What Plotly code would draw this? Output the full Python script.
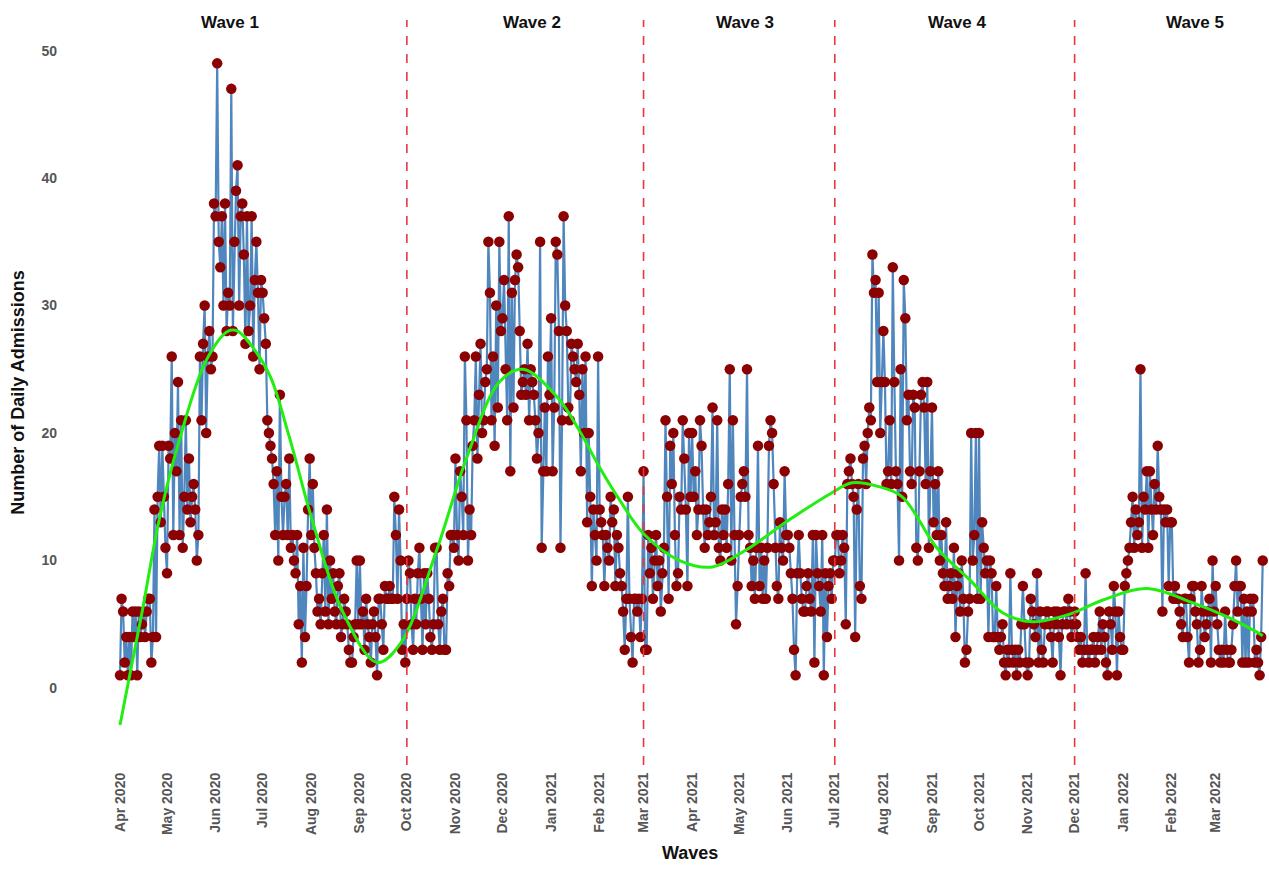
import pandas as pd
import plotly.graph_objects as go

# ---------------- data ----------------
apr20 = [1,7,6,2,4,1,4,1,6,4,6,1,6,4,5,6,4,6,7,7,2,4,14,4,15,19,13,19,15,11]
may20 = [9,19,18,26,12,20,17,24,12,21,11,15,21,14,18,13,15,16,14,10,12,26,21,27,30,20,26,28,25,26,38]
jun20 = [37,49,35,33,37,30,38,28,31,30,47,28,35,39,41,30,37,38,34,27,37,28,30,37,26,32,35,31,25,32]
jul20 = [31,29,27,21,20,19,18,16,12,17,10,23,15,12,15,16,12,18,11,12,10,9,12,5,8,2,11,4,8,14,18]
aug20 = [12,16,11,9,6,7,5,9,12,6,14,5,10,7,9,6,5,8,9,4,5,7,6,5,3,2,2,4,5,10,5]
sep20 = [10,5,6,3,7,5,4,2,5,6,4,1,7,7,5,3,8,7,7,8,7,7,15,12,7,14,10,3,5,2]
oct20 = [7,10,9,5,3,7,5,9,11,7,3,9,5,9,7,4,3,5,11,11,5,3,6,7,3,3,9,8,12,12,11]
nov20 = [18,12,10,17,15,12,26,21,10,14,12,19,21,26,18,23,27,20,21,24,25,35,31,21,26,19,30,22,35,28]
dec20 = [29,32,25,21,37,17,31,22,32,34,33,28,23,24,25,23,27,21,25,24,23,21,18,20,35,11,17,22,17,26,23]
jan21 = [29,17,22,35,34,28,11,21,37,30,28,22,21,27,26,25,24,27,23,17,25,20,26,13,20,15,8,14,12,10,26]
feb21 = [14,13,12,8,12,11,10,15,13,14,8,12,11,9,8,6,3,7,15,7,4,2,7,7,6,7,4,7]
mar21 = [17,3,3,12,9,11,7,10,12,8,10,6,9,11,21,15,7,19,16,20,12,8,9,15,14,21,18,14,8,20,15]
apr21 = [20,15,17,12,14,21,19,14,11,14,12,13,15,22,12,13,21,11,10,14,12,14,11,16,25,10,21,12,5,8]
may21 = [12,15,16,17,15,25,12,11,8,10,7,11,19,8,11,7,10,7,11,19,21,20,16,11,8,7,13,11,10,17,12]
jun21 = [12,11,9,7,3,1,9,12,9,7,6,6,8,9,7,6,12,2,12,9,8,6,12,1,9,4,8,9,7,10]
jul21 = [10,12,12,9,10,12,11,5,16,17,18,16,15,4,14,16,8,7,18,19,16,20,22,21,34,31,32,24,31,20,24]
aug21 = [28,24,16,17,21,16,33,24,17,16,10,25,15,32,29,21,23,17,16,23,22,11,10,17,23,24,22,16,24,11,17]
sep21 = [22,13,16,12,17,10,12,9,8,13,7,8,9,7,11,4,8,9,6,10,7,2,3,6,7,20,10,12,20,7]
oct21 = [20,7,13,11,9,10,4,10,9,4,4,8,4,3,4,5,2,1,3,2,9,3,2,3,1,3,2,5,8,5,2]
nov21 = [1,2,7,6,5,4,9,2,6,3,2,5,6,6,5,4,2,6,5,6,4,1,5,6,6,5,7,6,4,5]
dec21 = [6,5,4,3,4,2,3,9,3,2,3,3,4,2,3,4,6,3,5,4,2,1,6,5,3,8,6,1,6,4,3]
jan22 = [3,8,9,10,11,13,15,11,14,12,13,25,11,15,14,17,11,17,14,12,16,14,19,15,14,6,14,13,14,8,13]
feb22 = [13,7,8,7,7,6,5,4,7,7,4,2,7,8,8,6,5,2,3,8,6,4,5,6,7,2,10,6]
mar22 = [8,5,3,2,3,2,6,3,2,2,3,5,8,10,6,8,8,2,7,2,6,2,7,6,7,2,3,2,1,4,10]

start_date = "2020-04-01"

# smoothed trend
smooth_dates = ["2020-04-01","2020-04-15","2020-04-26","2020-05-09","2020-05-26","2020-06-09",
                "2020-06-15","2020-06-26","2020-07-06","2020-07-18","2020-08-02","2020-08-21",
                "2020-09-12","2020-09-27","2020-10-20","2020-11-08","2020-11-29","2020-12-14",
                "2021-01-05","2021-01-19","2021-02-01","2021-02-14","2021-03-01","2021-03-24",
                "2021-04-14","2021-05-05","2021-06-02","2021-06-29","2021-07-12","2021-07-29",
                "2021-08-13","2021-09-04","2021-09-25","2021-10-16","2021-11-04","2021-11-28",
                "2021-12-19","2022-01-16","2022-02-14","2022-03-08","2022-03-27","2022-03-31"]
smooth_vals = [-2.9, 5.9, 13.2, 19.5, 25.7, 28.0,
               28.0, 26.5, 24.4, 19.7, 13.0, 6.0,
               2.0, 3.5, 10.8, 18.0, 24.0, 25.0,
               22.8, 20.2, 17.3, 14.7, 12.1, 10.0,
               9.5, 10.8, 13.2, 15.3, 16.1, 15.8,
               15.0, 11.0, 8.5, 5.9, 5.2, 5.8,
               6.9, 7.8, 6.7, 5.6, 4.4, 4.1]

wave_bounds = ["2020-10-01", "2021-03-01", "2021-07-01", "2021-12-01"]
wave_labels = ["Wave 1", "Wave 2", "Wave 3", "Wave 4", "Wave 5"]
wave_label_dates = ["2020-06-10", "2020-12-20", "2021-05-05", "2021-09-17", "2022-02-16"]

month_ticks = pd.date_range("2020-04-01", "2022-03-01", freq="MS")
y_ticks = [0, 10, 20, 30, 40, 50]

# ---------------- build ----------------
values = (apr20 + may20 + jun20 + jul20 + aug20 + sep20 + oct20 + nov20 + dec20 +
          jan21 + feb21 + mar21 + apr21 + may21 + jun21 + jul21 + aug21 + sep21 +
          oct21 + nov21 + dec21 + jan22 + feb22 + mar22)
dates = pd.date_range(start_date, periods=len(values), freq="D")

FONT = "Liberation Sans, Arial, sans-serif"

fig = go.Figure()
fig.add_trace(go.Scatter(
    x=dates, y=values, mode="lines+markers",
    line=dict(color="#4f86bd", width=2.2),
    marker=dict(color="#8b0000", size=10.5, line=dict(width=0)),
    hoverinfo="x+y", showlegend=False))
fig.add_trace(go.Scatter(
    x=pd.to_datetime(smooth_dates), y=smooth_vals, mode="lines",
    line=dict(color="#22ee11", width=3, shape="spline", smoothing=1.0),
    showlegend=False, hoverinfo="skip"))

for d in wave_bounds:
    fig.add_shape(type="line", x0=d, x1=d, xref="x", y0=0, y1=1, yref="paper",
                  line=dict(color="#e8383d", width=1.6, dash="dash"))

for lab, d in zip(wave_labels, wave_label_dates):
    fig.add_annotation(x=d, y=52.2, xref="x", yref="y", text="<b>" + lab + "</b>",
                       showarrow=False, font=dict(size=17, color="#111111", family=FONT))

fig.add_annotation(x=0.5203, y=-0.118, xref="paper", yref="paper", text="<b>Waves</b>",
                   showarrow=False, yanchor="middle",
                   font=dict(size=18, color="#111111", family=FONT))

tickfont = dict(size=14, color="#555555", family=FONT, weight="bold")

fig.update_layout(
    width=1269, height=869,
    margin=dict(l=62, r=0, t=20, b=104),
    paper_bgcolor="white", plot_bgcolor="white",
    font=dict(family=FONT),
    xaxis=dict(range=["2020-02-24", "2022-04-04"], tickvals=month_ticks,
               ticktext=[d.strftime("%b %Y") for d in month_ticks],
               tickangle=-90, showgrid=False, zeroline=False,
               showline=False, ticks="", tickfont=tickfont, ticklabelstandoff=4),
    yaxis=dict(range=[-6.04, 52.4], tickvals=y_ticks, showgrid=False, zeroline=False,
               showline=False, ticks="", tickfont=tickfont, ticklabelstandoff=4,
               title=dict(text="<b>Number of Daily Admissions</b>", standoff=12,
                          font=dict(size=18, color="#111111"))),
)

fig.write_html("out.html")
